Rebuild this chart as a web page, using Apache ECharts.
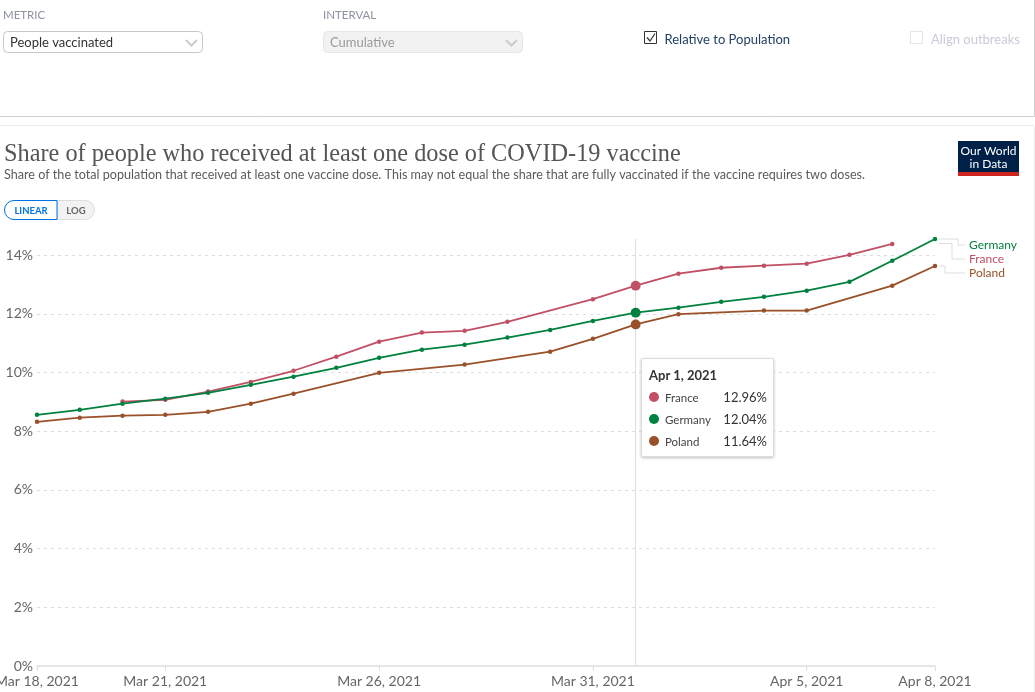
<!DOCTYPE html>
<html>
<head>
<meta charset="utf-8">
<style>html,body{margin:0;padding:0;background:#fff;overflow:hidden}#c{width:1035px;height:692px}</style>
<script src="https://cdn.jsdelivr.net/npm/echarts@6/dist/echarts.min.js"></script>
</head>
<body>
<div id="c"></div>
<script>
const dates = ['Mar 18, 2021','Mar 19, 2021','Mar 20, 2021','Mar 21, 2021','Mar 22, 2021','Mar 23, 2021','Mar 24, 2021','Mar 25, 2021','Mar 26, 2021','Mar 27, 2021','Mar 28, 2021','Mar 29, 2021','Mar 30, 2021','Mar 31, 2021','Apr 1, 2021','Apr 2, 2021','Apr 3, 2021','Apr 4, 2021','Apr 5, 2021','Apr 6, 2021','Apr 7, 2021','Apr 8, 2021'];
const france  = [null,null,9.01,9.07,9.35,9.68,10.06,10.54,11.05,11.36,11.42,11.73,null,12.50,12.96,13.37,13.57,13.64,13.71,14.01,14.38,null];
const germany = [8.56,8.73,8.94,9.11,9.31,9.58,9.86,10.16,10.50,10.78,10.95,11.19,11.45,11.76,12.04,12.21,12.41,12.58,12.79,13.09,13.81,14.55];
const poland  = [8.32,8.46,8.53,8.56,8.66,8.94,9.28,null,9.99,null,10.27,null,10.71,11.15,11.64,11.99,null,12.11,12.11,null,12.96,13.63];
const xTickDays = [0,3,8,13,18,21];
const hoverDay = 14;
const seriesNames = ['France','Germany','Poland'];
const seriesColors = ['#C15065','#00813F','#9A5129'];
const titleText = 'Share of people who received at least one dose of COVID-19 vaccine';
const subtitleText = 'Share of the total population that received at least one vaccine dose. This may not equal the share that are fully vaccinated if the vaccine requires two doses.';

const SANS = 'Lato, "Noto Sans", sans-serif';
const toPairs = a => a.map((v,i)=>[i,v]).filter(p=>p[1]!==null);
const allSeries = [france,germany,poland];

function txt(text,x,y,fill,font,align){
  return {type:'text',silent:true,z:50,style:{text,x,y,fill,font,textAlign:align||'left',textVerticalAlign:'middle'}};
}
function rect(x,y,w,h,r,fill,stroke,z){
  return {type:'rect',silent:true,z:z||40,shape:{x,y,width:w,height:h,r},style:{fill,stroke,lineWidth:1}};
}
function poly(points,stroke,w,z){
  return {type:'polyline',silent:true,z:z||45,shape:{points},style:{fill:null,stroke,lineWidth:w||1}};
}

const graphicEls = [
  // control panel
  rect(-2,-2,1036.5,118.5,0,'#fff','#cfcfcf'),
  rect(-2,125.5,1036.5,580,2,'#fff','#ececec',-1),
  txt('METRIC',3,15,'#8c92a0','11.5px '+SANS),
  rect(3.5,31.5,199,21,4,'#fff','#c8c8c8'),
  txt('People vaccinated',10,42.5,'#333','13px '+SANS),
  poly([[186,40],[191.5,45.5],[197,40]],'#ccc',2),
  txt('INTERVAL',323,15,'#8c92a0','11.5px '+SANS),
  rect(323.5,31.5,199,21,4,'#f2f2f2','#e6e6e6'),
  txt('Cumulative',330,42.5,'#999','13px '+SANS),
  poly([[506,40],[511.5,45.5],[517,40]],'#ccc',2),
  rect(644.5,31.5,12,12,0,'#fff','#333'),
  poly([[647,37.5],[650,41],[655,33.5]],'#333',1.2),
  txt('Relative to Population',664.5,39.5,'#234066','13px '+SANS),
  rect(910.5,31.5,12,12,0,'#fff','#e3e5ea'),
  txt('Align outbreaks',931,39.5,'#c8ccd6','13px '+SANS),
  // headings
  txt(titleText,4,154.5,'#555','24.3px "Liberation Serif", serif'),
  txt(subtitleText,4,175,'#5b5b5b','12.6px '+SANS),
  // logo
  rect(958,141,61,31,0,'#002147',null),
  rect(958,172,61,4,0,'#CE261E',null),
  txt('Our World',988.5,151,'#fff','12px '+SANS,'center'),
  txt('in Data',988.5,164,'#fff','12px '+SANS,'center'),
  // scale toggle
  rect(57.5,200.5,37,19,[0,9.5,9.5,0],'#f2f2f2','#ddd',40),
  rect(4.5,200.5,52.5,19,[9.5,0,0,9.5],'#fff','#0073E6',41),
  txt('LINEAR',31,210.5,'#0073E6','bold 9.5px '+SANS,'center'),
  txt('LOG',76,210.5,'#666','bold 9.5px '+SANS,'center'),
  // end labels
  txt('Germany',969,245,seriesColors[1],'12px '+SANS),
  txt('France',969,259,seriesColors[0],'12px '+SANS),
  txt('Poland',969,273,seriesColors[2],'12px '+SANS),
  poly([[939,239],[958,239],[958,245],[965,245]],'#ddd',1),
  poly([[939,243.5],[952,243.5],[952,259],[965,259]],'#ddd',1),
  poly([[939,266],[945,266],[945,273],[965,273]],'#ddd',1)
];

function tooltipHtml(params){
  const day = params[0].value[0];
  const fam = SANS.replace(/"/g,"'");
  let h = '<div style="font:bold 13px '+fam+';color:#333;line-height:18px;margin-bottom:2px">'+dates[day]+'</div>';
  seriesNames.forEach((n,i)=>{
    const v = allSeries[i][day];
    h += '<div style="display:flex;align-items:center;height:22px;font-family:'+fam+'">'
       + '<span style="width:10px;height:10px;border-radius:50%;background:'+seriesColors[i]+';margin-right:6px"></span>'
       + '<span style="flex:1;font-size:11.5px;color:#444">'+n+'</span>'
       + '<span style="font-size:13px;color:#333">'+v.toFixed(2)+'%</span></div>';
  });
  return h;
}

const chart = echarts.init(document.getElementById('c'),null,{renderer:'canvas'});
chart.setOption({
  animation:false,
  backgroundColor:'#fff',
  textStyle:{fontFamily:SANS},
  grid:{left:37,right:100,top:239,bottom:26,containLabel:false,outerBoundsMode:'none'},
  xAxis:{
    type:'value',min:0,max:21,
    splitLine:{show:false},
    axisLine:{show:true,lineStyle:{color:'#ddd',width:1.5}},
    axisTick:{show:true,length:5,lineStyle:{color:'#ddd'},customValues:xTickDays},
    axisLabel:{color:'#666',fontSize:14,margin:8,customValues:xTickDays,hideOverlap:false,
      formatter:v=>dates[v]}
  },
  yAxis:{
    type:'value',min:0,max:14.55,interval:2,
    axisLine:{show:false},axisTick:{show:false},
    axisLabel:{color:'#666',fontSize:14,margin:4,showMaxLabel:false,formatter:v=>v+'%'},
    splitLine:{show:true,showMinLine:false,showMaxLine:false,lineStyle:{color:'#ddd',type:[3,4],width:1}}
  },
  tooltip:{
    trigger:'axis',alwaysShowContent:true,transitionDuration:0,showDelay:0,
    position:[641,358],
    padding:[7,6,6,7],
    backgroundColor:'#fff',borderColor:'#ddd',borderWidth:1,borderRadius:2,
    extraCssText:'box-shadow:0 1px 3px rgba(0,0,0,.25);width:133px;height:99px;box-sizing:border-box;',
    axisPointer:{type:'line',snap:true,z:1,lineStyle:{color:'#ddd',width:1,type:'solid'},label:{show:false}},
    formatter:tooltipHtml
  },
  series:seriesNames.map((n,i)=>({
    name:n,type:'line',z:5,data:toPairs(allSeries[i]),
    lineStyle:{color:seriesColors[i],width:1.8},
    itemStyle:{color:seriesColors[i]},
    symbol:'circle',showSymbol:true,showAllSymbol:true,
    symbolSize:v=>v[0]===hoverDay?9:4.5,
    clip:false,
    emphasis:{disabled:true}
  })),
  graphic:{elements:graphicEls}
});
const hx = chart.convertToPixel({xAxisIndex:0},hoverDay);
chart.dispatchAction({type:'showTip',x:hx,y:400});
</script>
</body>
</html>
